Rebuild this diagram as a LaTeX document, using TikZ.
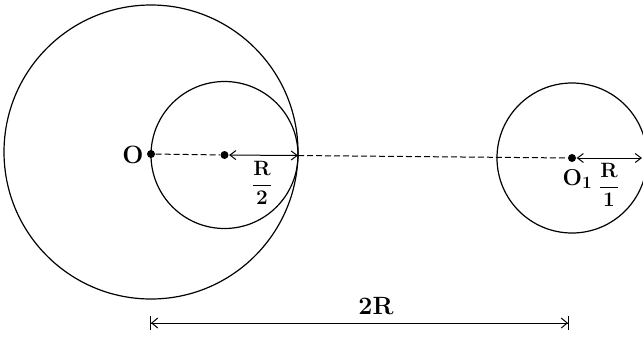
\documentclass[tikz,border=0pt]{standalone}
\usetikzlibrary{arrows.meta}
\begin{document}
\begin{tikzpicture}[x=1pt,y=-1pt,
  line width=1.2pt,
  dotstyle/.style={circle,fill=black,inner sep=0pt,minimum size=8pt},
  lbl/.style={inner sep=0pt,font=\fontsize{25}{30}\selectfont\bfseries},
  lblsmall/.style={inner sep=0pt,font=\fontsize{23}{28}\selectfont\bfseries},
  frac/.style={inner sep=0pt,font=\fontsize{20}{24}\selectfont\bfseries},
  dimarrow/.style={{Straight Barb[length=6pt,width=9pt]}-{Straight Barb[length=6pt,width=9pt]}},
  barrow/.style={{Bar[width=14pt]Straight Barb[length=6pt,width=10pt]}-{Straight Barb[length=6pt,width=10pt]Bar[width=14pt]}},
  dashline/.style={dashed,dash pattern=on 6pt off 3pt,line width=1pt}]
\useasboundingbox (0,0) rectangle (643,341);
% circles
\draw (151,152) circle[radius=147];
\draw (224.5,155) circle[radius=73.5];
\draw (572,158) circle[radius=75];
% key points
\node[dotstyle] (O) at (151,154) {};
\node[dotstyle] (C) at (224.5,155) {};
\coordinate (T) at (298,155.5);
\node[dotstyle] (O1) at (572,158) {};
\coordinate (E) at (642,158);
\coordinate (d1) at (150,323);
\coordinate (d2) at (569,323);
% lines
\draw[dashline] (O) -- (C);
\draw[dimarrow,line width=1pt] (C) -- (T);
\draw[dashline] (T) -- (O1);
\draw[dimarrow,line width=1pt] (O1) -- (E);
\draw[barrow,line width=1pt] (d1) -- (d2);
% labels
\node[lbl,anchor=east] (lO) at (144,155) {O};
\node[frac] (lR2) at (262,183) {$\displaystyle\frac{\mathbf{R}}{\mathbf{2}}$};
\node[lblsmall,anchor=west] (lO1) at (562,179) {O$_{\mathbf{1}}$};
\node[frac] (lR1) at (609,185) {$\displaystyle\frac{\mathbf{R}}{\mathbf{1}}$};
\node[lbl] (l2R) at (376,306) {2R};
\end{tikzpicture}
\end{document}
